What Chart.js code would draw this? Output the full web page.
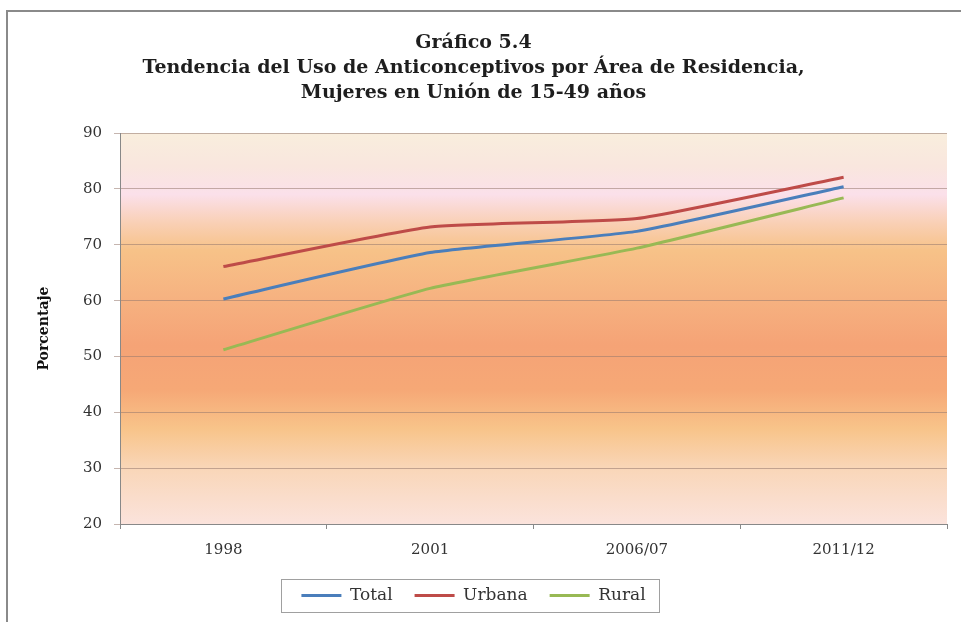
<!DOCTYPE html>
<html>
<head>
<meta charset="utf-8">
<script src="https://cdn.jsdelivr.net/npm/chart.js@4"></script>
<style>
    html, body { margin: 0; padding: 0; background: #fff; }
    #wrap { width: 961px; height: 622px; }
</style>
</head>
<body>
<div id="wrap"><canvas id="myChart" width="961" height="622"></canvas></div>
<script>
// values
const years = ['1998', '2001', '2006/07', '2011/12'];
const total = [60.3, 68.6, 72.4, 80.4];
const urbana = [66.1, 73.2, 74.7, 82.1];
const rural = [51.2, 62.2, 69.4, 78.4];
const yTicks = [20, 30, 40, 50, 60, 70, 80, 90];

const serif = "'DejaVu Serif', 'Liberation Serif', serif";

// orange gradient behind the plot area + frame + legend box
const decor = {
    id: 'decor',
    beforeDraw(chart) {
        const ctx = chart.ctx;
        const a = chart.chartArea;
        const y = chart.scales.y;
        ctx.save();
        const g = ctx.createLinearGradient(0, a.top, 0, a.bottom);
        const stop = (v, c) => g.addColorStop((y.getPixelForValue(v) - a.top) / (a.bottom - a.top), c);
        stop(90, '#f9eedd');
        stop(84, '#f9e6de');
        stop(79, '#fbe0ea');
        stop(74, '#f9d0b6');
        stop(69, '#f7c288');
        stop(60, '#f6b180');
        stop(52, '#f5a376');
        stop(44, '#f6a876');
        stop(37, '#f8c48a');
        stop(30, '#f9d6b8');
        stop(20, '#fbe3dc');
        ctx.fillStyle = g;
        ctx.fillRect(a.left, a.top, a.right - a.left, a.bottom - a.top);

        // outer frame
        ctx.strokeStyle = '#8a8a8a';
        ctx.lineWidth = 2;
        ctx.beginPath();
        ctx.moveTo(7, 622);
        ctx.lineTo(7, 11);
        ctx.lineTo(961, 11);
        ctx.stroke();
        ctx.restore();
    },
    afterDraw(chart) {
        const boxes = chart.legend.legendHitBoxes;
        if (!boxes || !boxes.length) return;
        const ctx = chart.ctx;
        let l = Infinity, r = -Infinity, t = Infinity, b = -Infinity;
        boxes.forEach(h => {
            l = Math.min(l, h.left); r = Math.max(r, h.left + h.width);
            t = Math.min(t, h.top); b = Math.max(b, h.top + h.height);
        });
        ctx.save();
        ctx.strokeStyle = '#a0a0a0';
        ctx.lineWidth = 1;
        ctx.strokeRect(Math.round(l - 20) + 0.5, Math.round(t - 8) + 0.5, Math.round(r - l + 34), Math.round(b - t + 16));
        ctx.restore();
    }
};

const data = {
    labels: years,
    datasets: [{
        label: 'Total',
        data: total,
        borderColor: '#4a7ebb',
        backgroundColor: '#4a7ebb',
        borderWidth: 3
    }, {
        label: 'Urbana',
        data: urbana,
        borderColor: '#be4b48',
        backgroundColor: '#be4b48',
        borderWidth: 3
    }, {
        label: 'Rural',
        data: rural,
        borderColor: '#98b954',
        backgroundColor: '#98b954',
        borderWidth: 3
    }]
};

var myChart = new Chart('myChart', {
    type: 'line',
    data: data,
    plugins: [decor],
    options: {
        responsive: false,
        animation: false,
        layout: { padding: { left: 0, right: 14, top: 0, bottom: 8 } },
        elements: {
            line: { tension: 0.15 },
            point: { radius: 0 }
        },
        plugins: {
            tooltip: { enabled: false },
            title: {
                display: true,
                text: ['Gráfico 5.4', 'Tendencia del Uso de Anticonceptivos por Área de Residencia,', 'Mujeres en Unión de 15-49 años'],
                color: '#1e1e1e',
                font: { family: serif, size: 19, weight: 'bold', lineHeight: 1.3 },
                padding: { top: 31, bottom: 28 }
            },
            legend: {
                position: 'bottom',
                labels: {
                    usePointStyle: true,
                    pointStyle: 'line',
                    pointStyleWidth: 40,
                    boxHeight: 8,
                    color: '#333',
                    padding: 22,
                    font: { family: serif, size: 17 }
                }
            }
        },
        scales: {
            x: {
                offset: true,
                grid: { drawOnChartArea: false, tickLength: 5, color: '#888', offset: true },
                border: { color: '#888' },
                ticks: { color: '#333', padding: 12, font: { family: serif, size: 15 } },
                afterFit: s => { s.height = 41; }
            },
            y: {
                min: 20,
                max: 90,
                afterBuildTicks: s => { s.ticks = yTicks.map(v => ({ value: v })); },
                grid: { color: 'rgba(150,120,110,0.55)', tickLength: 6, drawTicks: true },
                border: { color: '#888' },
                ticks: { color: '#333', padding: 12, font: { family: serif, size: 15 } },
                title: {
                    display: true,
                    text: 'Porcentaje',
                    color: '#111',
                    font: { family: serif, size: 14, weight: 'bold' },
                    padding: { top: 36 }
                },
                afterFit: s => { s.width = 120; }
            }
        }
    }
});
</script>
</body>
</html>
